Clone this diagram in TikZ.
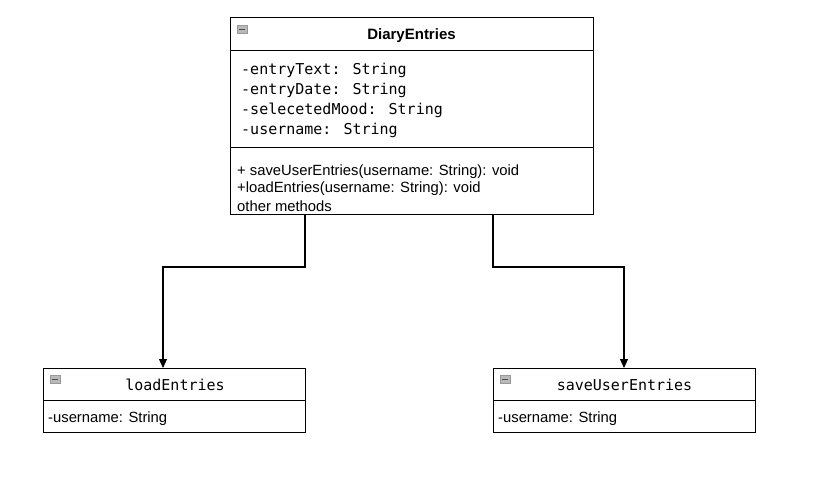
\documentclass[tikz,border=0pt]{standalone}
\usepackage{fontspec}
\setmainfont{Liberation Sans}
\newfontfamily\umlmono{DejaVu Sans Mono}
\usetikzlibrary{arrows.meta}
\tikzset{
  x=1pt,y=-1pt,
  part/.style={draw=black, line width=1.1pt, fill=white, rectangle, anchor=north west, inner sep=0pt},
  sanstxt/.style={font=\fontsize{14.8}{17.5}\selectfont, inner sep=0pt, anchor=west, align=left},
  monotxt/.style={font=\umlmono\fontsize{15}{20}\selectfont, inner sep=0pt, anchor=west, align=left},
  conn/.style={draw=black, line width=1.1pt, -{Triangle[length=9pt,width=8pt]}},
  collapse/.style={draw=gray!80, fill=gray!55, rectangle, minimum width=10pt, minimum height=8pt, inner sep=0pt, path picture={\draw[black!70, line width=1pt] ([xshift=2pt]path picture bounding box.west) -- ([xshift=-2pt]path picture bounding box.east);}},
}
\begin{document}
\begin{tikzpicture}
\useasboundingbox (0,0) rectangle (818,482);
\fill[white] (0,0) rectangle (818,482);
% main class
\node[part, minimum width=363pt, minimum height=33pt] (hdr) at (230,17) {};
\node[part, minimum width=363pt, minimum height=97pt] (attrs) at (230,50) {};
\node[part, minimum width=363pt, minimum height=67pt] (meth) at (230,147) {};
\node[collapse] (c1) at (242,29) {};
\node[font=\bfseries\fontsize{15}{17}\selectfont, inner sep=0pt] (title) at (411.5,35.5) {DiaryEntries};
\node[monotxt] (a1) at (241,70.5) {-entryText: String};
\node[monotxt] (a2) at (241,90.5) {-entryDate: String};
\node[monotxt] (a3) at (241,110.5) {-selecetedMood: String};
\node[monotxt] (a4) at (241,130.5) {-username: String};
\node[sanstxt] (m1) at (237,171.5) {+ saveUserEntries(username: String): void};
\node[sanstxt] (m2) at (237,189) {+loadEntries(username: String): void};
\node[sanstxt] (m3) at (237,206.5) {other methods};
% left class
\node[part, minimum width=262pt, minimum height=32pt] (lhdr) at (43,368) {};
\node[part, minimum width=262pt, minimum height=32pt] (lbody) at (43,400) {};
\node[collapse] (c2) at (55,379) {};
\node[font=\umlmono\fontsize{15}{20}\selectfont, inner sep=0pt] (ltitle) at (175,385) {loadEntries};
\node[sanstxt] (lattr) at (48,418.5) {-username: String};
% right class
\node[part, minimum width=262pt, minimum height=32pt] (rhdr) at (493,368) {};
\node[part, minimum width=262pt, minimum height=32pt] (rbody) at (493,400) {};
\node[collapse] (c3) at (505,379) {};
\node[font=\umlmono\fontsize{15}{20}\selectfont, inner sep=0pt] (rtitle) at (624.5,385) {saveUserEntries};
\node[sanstxt] (rattr) at (498,418.5) {-username: String};
% connectors
\coordinate (ls) at (305,214);
\coordinate (rs) at (493,214);
\coordinate (le) at (163,368);
\coordinate (re) at (624,368);
\draw[conn] (ls) -- (305,267) -- (163,267) -- (le);
\draw[conn] (rs) -- (493,267) -- (624,267) -- (re);
\end{tikzpicture}
\end{document}
